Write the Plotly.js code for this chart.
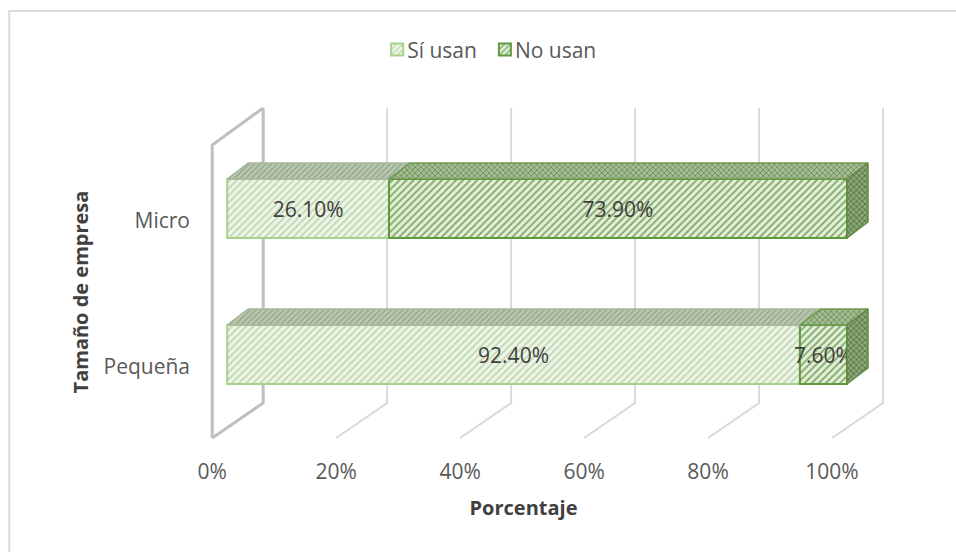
<!DOCTYPE html>
<html lang="es">
<head>
<meta charset="utf-8">
<script src="https://cdn.plot.ly/plotly-3.0.1.min.js"></script>
<style>html,body{margin:0;padding:0;background:#fff}#chart{width:956px;height:552px}</style>
</head>
<body>
<div id="chart"></div>
<script>
// Uso por tamaño de empresa (porcentaje)
const categories = ['Pequeña', 'Micro'];
const siUsan = [92.4, 26.1];
const noUsan = [7.6, 73.9];
const xTicks = [0, 20, 40, 60, 80, 100];

const FONT = '"Open Sans", "Noto Sans", sans-serif';
const TEXT = '#595959';
const positions = categories.map(function (c, i) { return i; });

// Oblique projection, in axis units
const PX_X = 6.2, PX_Y = 146;
const floorDx = 51 / PX_X, floorDy = 35 / PX_Y;   // floor depth
const wallHeight = 293 / PX_Y;                    // front edge of the wall
const backHeight = 295 / PX_Y;                    // back edge of the wall
const barBase = 15 / PX_X;                        // shift of the bar plane along x
const barLift = 12.5 / PX_Y;                      // shift of the bar plane along y
const barWidth = 59 / PX_Y;
const barDx = 21 / PX_X, barDy = 16 / PX_Y;       // bar depth
const floorY = -71 / PX_Y;                        // front edge of the floor

const PALE = {bg: '#eef6e8', fg: '#c2d8b2', line: '#a9d18e', shape: '/'};
const DEEP = {bg: '#e2f0d8', fg: '#84a86c', line: '#5f9a3c', shape: '/'};
const PALE_TOP = {bg: '#bcc8b4', fg: '#98aa8c', shape: '/'};
const DEEP_TOP = {bg: '#a6bd95', fg: '#6d9055', shape: 'x'};
const DEEP_SIDE = {bg: '#8ba578', fg: '#55763e', shape: 'x'};

const shapes = [];
xTicks.forEach(function (v, i) {
  const strong = i === 0;
  const color = strong ? '#bfbfbf' : '#d9d9d9';
  const width = strong ? 3 : 2;
  const backX = v + floorDx, backY = floorY + floorDy;
  const path = 'M' + v + ',' + floorY + ' L' + backX + ',' + backY + ' L' + backX + ',' + (backY + backHeight);
  shapes.push({type: 'path', xref: 'x', yref: 'y', layer: 'below', path: path,
    line: {color: color, width: width}});
});
// Left wall, front edge
shapes.push({type: 'path', xref: 'x', yref: 'y', layer: 'below',
  path: 'M0,' + floorY + ' L0,' + (floorY + wallHeight) + ' L' + floorDx + ',' + (floorY + floorDy + backHeight),
  line: {color: '#bfbfbf', width: 3}});
// Chart frame: top and left edges
shapes.push({type: 'path', xref: 'paper', yref: 'paper', layer: 'below',
  path: 'M' + (9 - 205.8) / 678.2 + ',' + (441 - 552) / 336 +
        ' L' + (9 - 205.8) / 678.2 + ',' + (441 - 11) / 336 +
        ' L' + (956 - 205.8) / 678.2 + ',' + (441 - 11) / 336,
  line: {color: '#d9d9d9', width: 2}});

function facePoly(name, pts, style, line) {
  return {type: 'scatter', mode: 'lines', name: name, showlegend: false, hoverinfo: 'skip',
    x: pts.map(function (p) { return p[0]; }), y: pts.map(function (p) { return p[1]; }),
    fill: 'toself', fillcolor: style.bg,
    fillpattern: {shape: style.shape, size: 4, solidity: 0.4, bgcolor: style.bg, fgcolor: style.fg},
    line: {color: line, width: 1.5}, cliponaxis: false};
}

const faces = [];
categories.forEach(function (c, i) {
  const yc = i + barLift;
  const top = yc + barWidth / 2, bot = yc - barWidth / 2;
  const x0 = barBase, x1 = barBase + siUsan[i], x2 = x1 + noUsan[i];
  faces.push(facePoly('top-si-' + i, [[x0, top], [x1, top], [x1 + barDx, top + barDy], [x0 + barDx, top + barDy], [x0, top]], PALE_TOP, '#a6b89b'));
  faces.push(facePoly('top-no-' + i, [[x1, top], [x2, top], [x2 + barDx, top + barDy], [x1 + barDx, top + barDy], [x1, top]], DEEP_TOP, '#6b9a4c'));
  faces.push(facePoly('side-' + i, [[x2, top], [x2 + barDx, top + barDy], [x2 + barDx, bot + barDy], [x2, bot], [x2, top]], DEEP_SIDE, '#5f8a43'));
});

function front(name, base, values, style) {
  return {type: 'bar', orientation: 'h', name: name, y: positions, x: values, base: base,
    width: barWidth, offset: barLift - barWidth / 2,
    marker: {color: style.bg, line: {color: style.line, width: 2},
      pattern: {shape: style.shape, size: 5, solidity: 0.36, bgcolor: style.bg, fgcolor: style.fg, fillmode: 'replace'}},
    text: values.map(function (v) { return v.toFixed(2) + '%'; }),
    textposition: 'inside', insidetextanchor: 'middle', textangle: 0, constraintext: 'none',
    textfont: {family: FONT, size: 21, color: '#404040'}, hoverinfo: 'skip', cliponaxis: false};
}

const traces = faces.concat([
  front('Sí usan', positions.map(function () { return barBase; }), siUsan, PALE),
  front('No usan', siUsan.map(function (v) { return barBase + v; }), noUsan, DEEP)
]);

const layout = {
  width: 956, height: 552, paper_bgcolor: '#fff', plot_bgcolor: 'rgba(0,0,0,0)',
  margin: {l: 205.8, r: 72, t: 105, b: 111, pad: 0},
  barmode: 'overlay', shapes: shapes, showlegend: true,
  font: {family: FONT, size: 21, color: TEXT},
  legend: {orientation: 'h', x: 0.2377, xref: 'paper', xanchor: 'left', y: 1.164, yanchor: 'middle',
    font: {family: FONT, size: 21, color: TEXT}, itemwidth: 30,
    traceorder: 'normal', bgcolor: 'rgba(0,0,0,0)'},
  xaxis: {range: [-1, 672 / PX_X], tickvals: xTicks, ticktext: xTicks.map(function (v) { return v + '%'; }),
    showgrid: false, zeroline: false, showline: false, ticks: '', ticklabelstandoff: 16,
    title: {text: '<b>Porcentaje</b>', standoff: 16, font: {family: FONT, size: 20, color: '#404040'}}},
  yaxis: {tickvals: positions, ticktext: categories,
    range: [floorY - 3 / PX_Y, floorY + 333 / PX_Y], showgrid: false, zeroline: false, showline: false, ticks: '',
    ticklabelstandoff: 15,
    title: {text: '<b>Tamaño de empresa</b>', standoff: 12, font: {family: FONT, size: 20, color: '#404040'}}}
};

Plotly.newPlot('chart', traces, layout, {displayModeBar: false, responsive: false}).then(function (gd) {
  // Bring the legend swatches close to their labels
  gd.querySelectorAll('.legendsymbols').forEach(function (s) {
    s.setAttribute('transform', 'translate(10,0)');
  });
  // Tighten the pitch between the two legend entries
  const second = gd.querySelectorAll('.legend .traces')[1];
  if (second) {
    const m = /translate\(([-\d.]+),\s*([-\d.]+)\)/.exec(second.getAttribute('transform') || '');
    if (m) second.setAttribute('transform', 'translate(' + (parseFloat(m[1]) - 7) + ',' + m[2] + ')');
  }
  // Axis titles sit off-centre relative to the plot area
  const xt = gd.querySelector('.g-xtitle');
  if (xt) xt.setAttribute('transform', 'translate(-21.5,0)');
  const yt = gd.querySelector('.g-ytitle');
  if (yt) yt.setAttribute('transform', 'translate(3,19)');
});
</script>
</body>
</html>
